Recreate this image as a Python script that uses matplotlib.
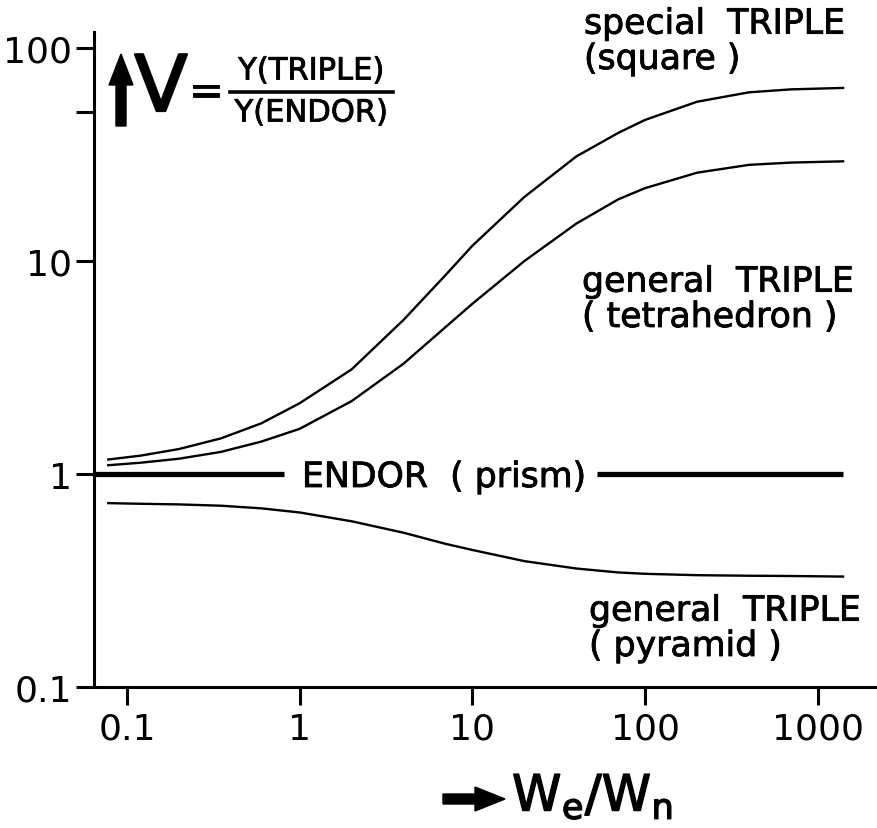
import matplotlib
matplotlib.use("Agg")
import matplotlib.pyplot as plt
from matplotlib.patches import FancyArrow
import matplotlib.patheffects as pe

# ---------------- data ----------------
x_ratio = [0.078, 0.12, 0.2, 0.35, 0.6, 1, 2, 4, 7, 10, 20, 40, 70, 100, 200, 400, 700, 1400]
v_special = [1.17, 1.22, 1.31, 1.47, 1.73, 2.15, 3.1, 5.3, 8.6, 11.8, 20, 31, 40, 46, 56, 62, 64, 65]
v_tetra = [1.10, 1.13, 1.18, 1.27, 1.42, 1.63, 2.2, 3.3, 4.9, 6.3, 10, 15, 19.5, 22, 26, 28.3, 29, 29.4]
v_pyramid = [0.73, 0.725, 0.72, 0.71, 0.69, 0.66, 0.60, 0.53, 0.47, 0.44, 0.39, 0.36, 0.345, 0.34, 0.335, 0.333, 0.332, 0.33]
endor_left_x = [0.0645, 0.81]
endor_right_x = [53, 1400]
endor_v = [1, 1]

x_ticks = [0.1, 1, 10, 100, 1000]
x_tick_labels = ["0.1", "1", "10", "100", "1000"]
y_ticks = [0.1, 1, 10, 100]
y_tick_labels = ["0.1", "1", "10", "100"]
y_minor_ticks = [50]

label_special = "special  TRIPLE\n(square )"
label_tetra = "general  TRIPLE\n( tetrahedron )"
label_pyramid = "general  TRIPLE\n( pyramid )"
label_endor = "ENDOR  ( prism)"

W, H = 878, 829
plt.rcParams["font.family"] = ["DejaVu Sans"]
BOLD = [pe.withStroke(linewidth=0.6, foreground="black")]

fig = plt.figure(figsize=(W / 100, H / 100), dpi=100)
fig.patch.set_facecolor("white")

def fx(px):
    return px / W

def fy(py):
    return 1 - py / H

left, bottom, top = 94, 688, 33
ax = fig.add_axes([fx(left), fy(bottom), 1 - fx(left), fy(top) - fy(bottom)])
ax.set_xscale("log")
ax.set_yscale("log")
ax.set_xlim(0.0645, 2230)
ax.set_ylim(0.1, 119)

for s in ("top", "right"):
    ax.spines[s].set_visible(False)
for s in ("left", "bottom"):
    ax.spines[s].set_linewidth(2.2)
    ax.spines[s].set_color("black")

ax.set_xticks(x_ticks)
ax.set_xticklabels(x_tick_labels)
ax.set_yticks(y_ticks)
ax.set_yticklabels(y_tick_labels)
ax.set_xticks([], minor=True)
ax.set_yticks(y_minor_ticks, minor=True)
ax.tick_params(axis="both", which="major", direction="out", width=2.2, labelsize=26, color="black")
ax.tick_params(axis="x", which="major", length=13, pad=5)
ax.tick_params(axis="y", which="major", length=13, pad=3)
ax.tick_params(axis="y", which="minor", length=13, width=2.2)

lw = 1.7
ax.plot(x_ratio, v_special, color="black", lw=lw)
ax.plot(x_ratio, v_tetra, color="black", lw=lw)
ax.plot(x_ratio, v_pyramid, color="black", lw=lw)
ax.plot(endor_left_x, endor_v, color="black", lw=3.8, solid_capstyle="butt")
ax.plot(endor_right_x, endor_v, color="black", lw=3.8, solid_capstyle="butt")

# curve labels (pixel positions)
tk = dict(fontsize=25, color="black", ha="left", va="baseline", linespacing=1.05,
          path_effects=BOLD)
fig.text(fx(584), fy(70), label_special, **tk)
fig.text(fx(582), fy(328), label_tetra, **tk)
fig.text(fx(589), fy(657), label_pyramid, **tk)
fig.text(fx(444), fy(478), label_endor, fontsize=25, ha="center", va="center",
         path_effects=BOLD)

# ordinate title: arrow + V = Y(TRIPLE)/Y(ENDOR)
arr = FancyArrow(fx(121), fy(127), 0, fy(55) - fy(127), width=fx(10),
                 head_width=fx(24), head_length=(fy(55) - fy(86)),
                 length_includes_head=True, color="black",
                 transform=fig.transFigure)
fig.patches.append(arr)
fig.text(fx(161), fy(90), "V", fontsize=56, ha="center", va="center",
         path_effects=[pe.withStroke(linewidth=1.6, foreground="black")])
fig.text(fx(206), fy(93), "=", fontsize=30, ha="center", va="center",
         path_effects=BOLD)
fig.text(fx(311), fy(72), "Y(TRIPLE)", fontsize=22, ha="center", va="center",
         path_effects=BOLD)
fig.text(fx(311), fy(114), "Y(ENDOR)", fontsize=22, ha="center", va="center",
         path_effects=BOLD)
fig.add_artist(plt.Line2D([fx(230), fx(393)], [fy(93), fy(93)], color="black", lw=2.6,
                          transform=fig.transFigure))

# abscissa title: arrow + We / Wn
arr2 = FancyArrow(fx(443), fy(800), fx(505) - fx(443), 0, width=fy(0) - fy(10),
                  head_width=fy(0) - fy(24), head_length=fx(30),
                  length_includes_head=True, color="black",
                  transform=fig.transFigure)
fig.patches.append(arr2)
fig.text(fx(512), fy(798), r"W$_\mathregular{e}$/W$_\mathregular{n}$", fontsize=36,
         ha="left", va="center", path_effects=[pe.withStroke(linewidth=1.0, foreground="black")])

fig.savefig("out.png", dpi=100, facecolor="white")
